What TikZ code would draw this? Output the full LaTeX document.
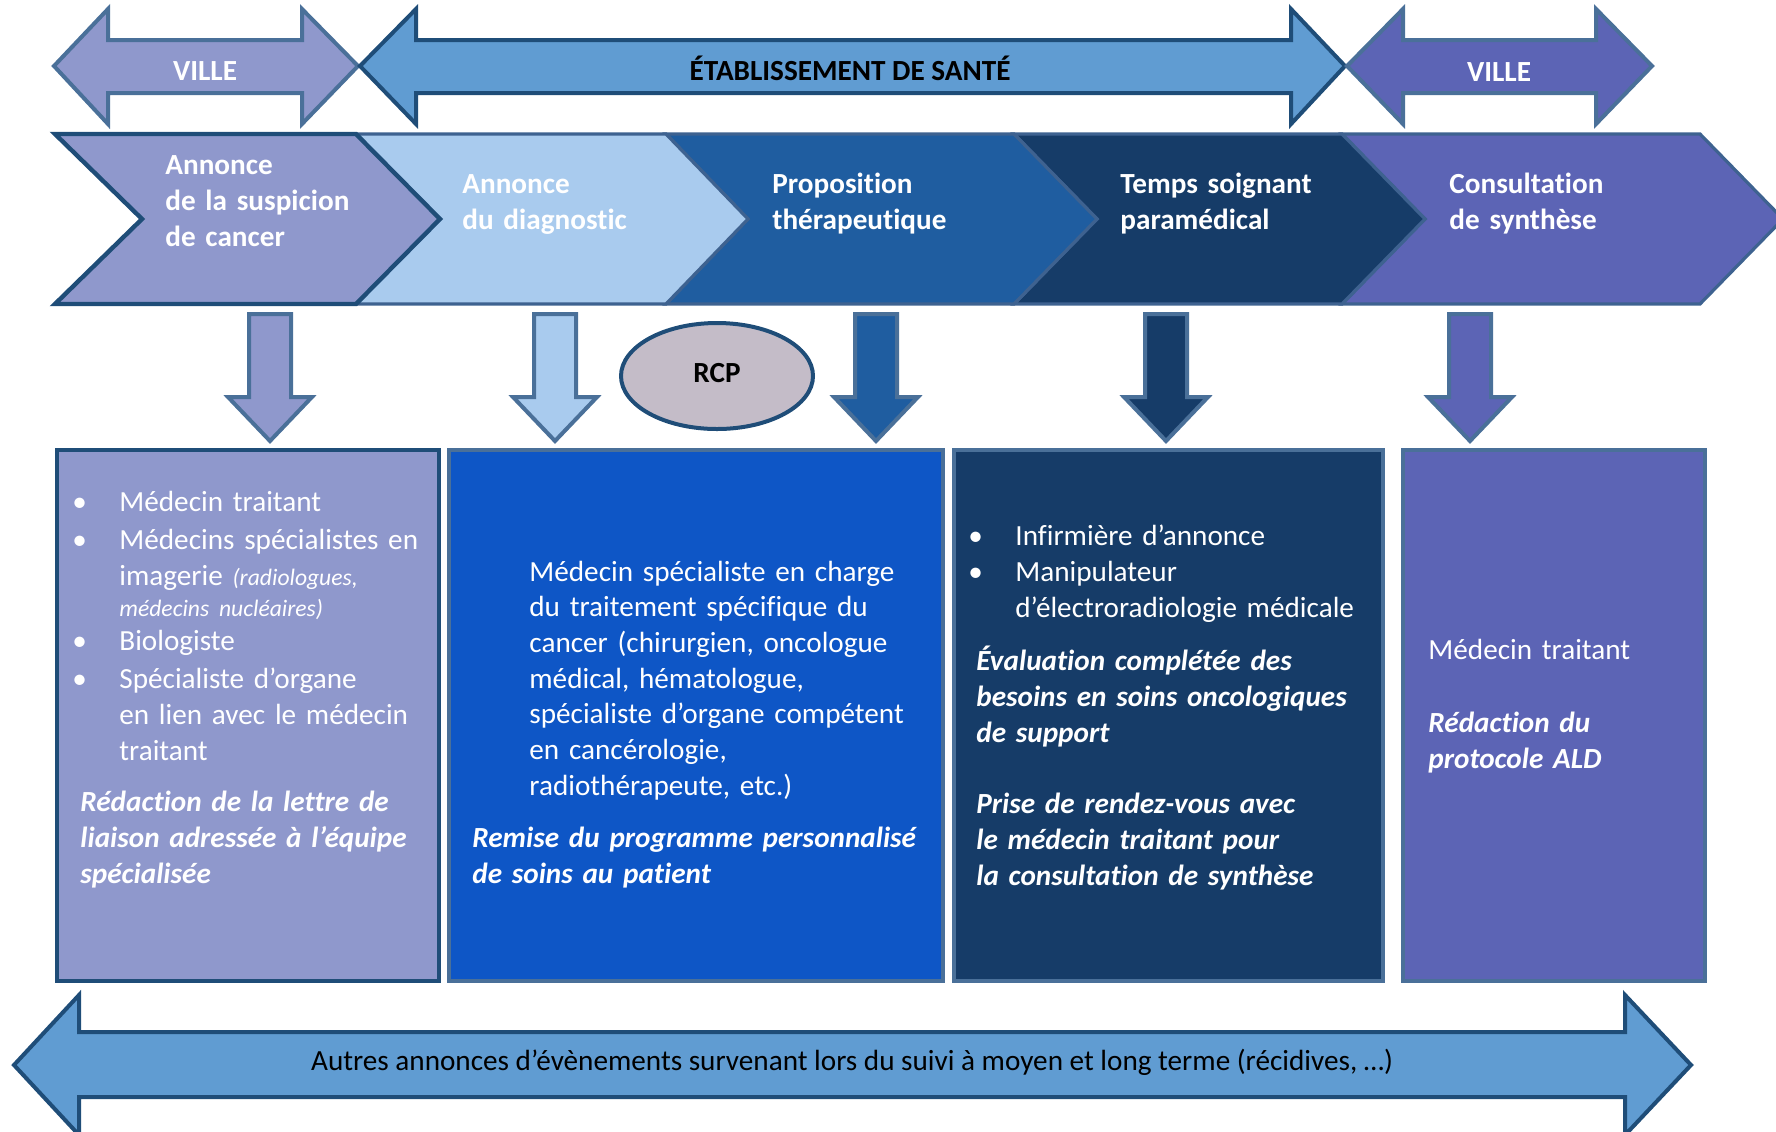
\documentclass[tikz,border=0pt]{standalone}
\usepackage{fontspec}
\setmainfont{Carlito}[Ligatures=NoCommon]
\usetikzlibrary{shapes.geometric, positioning}
\definecolor{villeA}{HTML}{8F98CC}
\definecolor{villeB}{HTML}{5C64B5}
\definecolor{etab}{HTML}{609CD2}
\definecolor{chevB}{HTML}{A9CBEE}
\definecolor{chevC}{HTML}{1F5DA0}
\definecolor{chevD}{HTML}{163C68}
\definecolor{boxblue}{HTML}{0E56C6}
\definecolor{rcpfill}{HTML}{C4BCC8}
\definecolor{darkline}{HTML}{1F4D78}
\definecolor{steel}{HTML}{4A7099}
\definecolor{chevline}{HTML}{3E6290}

\begin{document}
\begin{tikzpicture}[x=0.5pt, y=-0.5pt,
  bigarrow/.style={line width=2pt, line join=miter},
  chevron/.style={draw=chevline, line width=1.6pt, line join=miter},
  downarr/.style={draw=steel, line width=2pt, line join=miter},
  infobox/.style={line width=2pt},
  txt/.style={anchor=base west, inner sep=0pt, align=left, text width=#1,
    font=\fontsize{14.6}{18}\selectfont, text=white},
  txt/.default=260pt,
  head/.style={anchor=base, inner sep=0pt, font=\fontsize{14.6}{18}\selectfont\bfseries},
  dot/.style={anchor=base west, inner sep=0pt, font=\fontsize{14.6}{18}\selectfont, text=white}]
\useasboundingbox (0,0) rectangle (1776,1131);

% top double arrows
\draw[bigarrow, draw=steel, fill=villeA] (54,66) -- (108,9) -- (108,40) -- (302,40) -- (302,9) -- (358,66)
  -- (302,124) -- (302,93) -- (108,93) -- (108,124) -- cycle;
\draw[bigarrow, draw=darkline, fill=etab] (360,66) -- (416,9) -- (416,40) -- (1291,40) -- (1291,9) -- (1345,66)
  -- (1291,124) -- (1291,93) -- (416,93) -- (416,124) -- cycle;
\draw[bigarrow, draw=steel, fill=villeB] (1347,66) -- (1403,9) -- (1403,40) -- (1596,40) -- (1596,9) -- (1652,66)
  -- (1596,124) -- (1596,93) -- (1403,93) -- (1403,124) -- cycle;
\node[head, text=white] (ville1) at (205,80) {VILLE};
\node[head, text=black] (etablissement) at (850,80) {ÉTABLISSEMENT DE SANTÉ};
\node[head, text=white] (ville2) at (1499,81) {VILLE};

% chevrons (right to left so that each tip lies on top)
\draw[chevron, fill=villeB] (1342,134) -- (1700,134) -- (1783,219) -- (1700,304) -- (1342,304) -- (1425,219) -- cycle;
\draw[chevron, fill=chevD] (1014,134) -- (1342,134) -- (1425,219) -- (1342,304) -- (1014,304) -- (1097,219) -- cycle;
\draw[chevron, fill=chevC] (666,134) -- (1014,134) -- (1097,219) -- (1014,304) -- (666,304) -- (748,219) -- cycle;
\draw[chevron, fill=chevB] (356,134) -- (666,134) -- (748,219) -- (666,304) -- (356,304) -- (440,219) -- cycle;
\draw[chevron, draw=darkline, line width=2.2pt, fill=villeA] (55,134) -- (356,134) -- (440,219) -- (356,304) -- (55,304) -- (142,219) -- cycle;
\node[txt, font=\fontsize{14.6}{18.2}\selectfont\bfseries] (suspicion) at (165,174) {Annonce\\de la suspicion\\de cancer};
\node[txt, font=\fontsize{14.6}{18.2}\selectfont\bfseries] (diagnostic) at (462,193) {Annonce\\du diagnostic};
\node[txt, font=\fontsize{14.6}{18.2}\selectfont\bfseries] (proposition) at (772,193) {Proposition\\thérapeutique};
\node[txt, font=\fontsize{14.6}{18.2}\selectfont\bfseries] (soignant) at (1120,193) {Temps soignant\\paramédical};
\node[txt, font=\fontsize{14.6}{18.2}\selectfont\bfseries] (synthese) at (1449,193) {Consultation\\de synthèse};

% down arrows
\foreach \cx/\col in {270/villeA, 555/chevB, 876/chevC, 1166/chevD, 1470/villeB}
  \draw[downarr, fill=\col] ({\cx-21},314) -- ({\cx+21},314) -- ({\cx+21},397) -- ({\cx+42},397)
    -- (\cx,441) -- ({\cx-42},397) -- ({\cx-21},397) -- cycle;

\node[ellipse, draw=darkline, line width=2pt, fill=rcpfill, minimum width=96pt, minimum height=53pt,
  inner sep=0pt, font=\fontsize{14.6}{18}\selectfont\bfseries] (rcp) at (717,376) {\raisebox{3pt}{RCP}};

% boxes
\draw[infobox, draw=darkline, fill=villeA] (57,450) rectangle (439,981);
\draw[infobox, draw=steel, fill=boxblue] (449,450) rectangle (943,981);
\draw[infobox, draw=steel, fill=chevD] (954,450) rectangle (1383,981);
\draw[infobox, draw=steel, fill=villeB] (1403,450) rectangle (1705,981);

% box 1
\node[dot] (b1d1) at (72,511) {•};
\node[txt] (b1i1) at (119,511) {Médecin traitant};
\node[dot] (b1d2) at (72,549) {•};
\node[txt] (b1i2) at (119,549) {Médecins spécialistes en\\imagerie {\fontsize{11.8}{18}\selectfont\itshape (radiologues,}\\[-2.5pt]
  {\fontsize{11.8}{18}\selectfont\itshape médecins nucléaires)}};
\node[dot] (b1d3) at (72,650) {•};
\node[txt] (b1i3) at (119,650) {Biologiste};
\node[dot] (b1d4) at (72,688) {•};
\node[txt] (b1i4) at (119,688) {Spécialiste d’organe\\en lien avec le médecin\\traitant};
\node[txt, font=\fontsize{14.6}{18}\selectfont\bfseries\itshape] (lettre) at (80,811)
  {Rédaction de la lettre de\\liaison adressée à l’équipe\\spécialisée};

% box 2
\node[txt, font=\fontsize{14.6}{17.85}\selectfont] (specialiste) at (529,581)
  {Médecin spécialiste en charge\\du traitement spécifique du\\cancer (chirurgien, oncologue\\médical, hématologue,\\spécialiste d’organe compétent\\en cancérologie,\\radiothérapeute, etc.)};
\node[txt, font=\fontsize{14.6}{18}\selectfont\bfseries\itshape] (programme) at (472,847)
  {Remise du programme personnalisé\\de soins au patient};

% box 3
\node[dot] (b3d1) at (968,545) {•};
\node[txt] (b3i1) at (1015,545) {Infirmière d’annonce};
\node[dot] (b3d2) at (968,581) {•};
\node[txt] (b3i2) at (1015,581) {Manipulateur\\d’électroradiologie médicale};
\node[txt, font=\fontsize{14.6}{18}\selectfont\bfseries\itshape] (evaluation) at (976,670)
  {Évaluation complétée des\\besoins en soins oncologiques\\de support};
\node[txt, font=\fontsize{14.6}{18}\selectfont\bfseries\itshape] (rendezvous) at (976,813)
  {Prise de rendez-vous avec\\le médecin traitant pour\\la consultation de synthèse};

% box 4
\node[txt] (b4i1) at (1428,659) {Médecin traitant};
\node[txt, font=\fontsize{14.6}{18}\selectfont\bfseries\itshape] (ald) at (1428,732) {Rédaction du\\protocole ALD};

% bottom double arrow
\draw[bigarrow, draw=darkline, fill=etab] (14,1065) -- (79,995) -- (79,1032) -- (1625,1032) -- (1625,995) -- (1691,1065)
  -- (1625,1135) -- (1625,1097) -- (79,1097) -- (79,1135) -- cycle;
\node[anchor=base, inner sep=0pt, font=\fontsize{14.6}{18}\selectfont] (suivi) at (852,1070)
  {Autres annonces d’évènements survenant lors du suivi à moyen et long terme (récidives, …)};
\end{tikzpicture}
\end{document}
